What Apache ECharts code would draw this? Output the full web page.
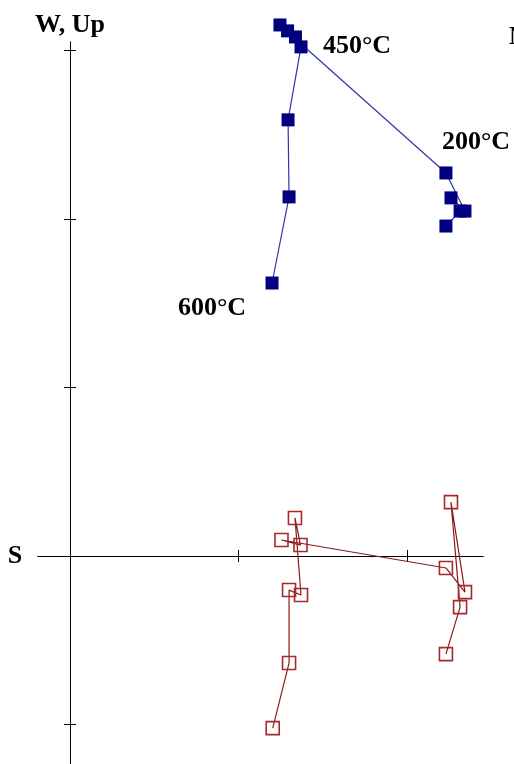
<!DOCTYPE html>
<html>
<head>
<meta charset="utf-8">
<script src="https://cdn.jsdelivr.net/npm/echarts@6/dist/echarts.min.js"></script>
<style>
  html, body { margin: 0; padding: 0; background: #ffffff; }
  #chart { width: 514px; height: 764px; }
</style>
</head>
<body>
<div id="chart"></div>
<script>
// Orthogonal vector projection of demagnetisation steps (axis units = 1 tick)
const stepNames = ['NRM', '2', '3', '4', '200°C', '6', '7', '8', '450°C', '10', '11', '600°C'];

// Horizontal projection (N component vs W component): filled squares
const horizN = [2.231, 2.315, 2.261, 2.344, 2.231, 1.246, 1.291, 1.338, 1.371, 1.294, 1.300, 1.199];
const horizW = [1.958, 2.047, 2.125, 2.047, 2.273, 3.151, 3.116, 3.080, 3.021, 2.588, 2.131, 1.620];

// Vertical projection (N component vs Up component): open squares
const vertN  = [2.231, 2.315, 2.261, 2.344, 2.231, 1.255, 1.368, 1.335, 1.371, 1.300, 1.300, 1.203];
const vertUp = [-0.582, -0.303, 0.320, -0.214, -0.071, 0.095, 0.065, 0.226, -0.231, -0.202, -0.635, -1.021];

// Tick marks on the two axes
const xTicks = [1, 2];
const yTicks = [-1, 1, 2, 3];

// Temperature labels
const tempLabels = ['200°C', '450°C', '600°C'];
// Axis direction labels
const axisLabels = ['W, Up', 'S', 'N'];

const toPairs = (xs, ys) => xs.map((x, i) => [x, ys[i]]);

const chart = echarts.init(document.getElementById('chart'), null, { renderer: 'canvas' });

const X_MIN = -0.190, X_MAX = 2.451;
const Y_MIN = -1.234, Y_MAX = 3.050;

function xAxisDef(pos, idx) {
  return {
    type: 'value', min: X_MIN, max: X_MAX, position: pos,
    axisLine: { show: true, onZero: true, onZeroAxisIndex: idx, lineStyle: { color: '#000', width: 1 } },
    axisTick: { show: true, inside: false, length: 6, customValues: xTicks, lineStyle: { color: '#000', width: 1 } },
    axisLabel: { show: false },
    splitLine: { show: false }
  };
}
function yAxisDef(pos, idx) {
  return {
    type: 'value', min: Y_MIN, max: Y_MAX, position: pos,
    axisLine: { show: true, onZero: true, onZeroAxisIndex: idx, lineStyle: { color: '#000', width: 1 } },
    axisTick: { show: true, inside: false, length: 6, customValues: yTicks, lineStyle: { color: '#000', width: 1 } },
    axisLabel: { show: false },
    splitLine: { show: false }
  };
}

const textFont = 'bold 26px "Liberation Serif", "Times New Roman", serif';
function txt(s, x, y, align) {
  return {
    type: 'text', x: x, y: y, z: 10,
    style: { text: s, font: textFont, fill: '#000', align: align || 'center', verticalAlign: 'middle' }
  };
}

chart.setOption({
  animation: false,
  backgroundColor: '#ffffff',
  grid: { left: 38, right: 31, top: 42, bottom: 0, containLabel: false },
  xAxis: [xAxisDef('bottom', 0), xAxisDef('top', 1)],
  yAxis: [yAxisDef('left', 0), yAxisDef('right', 1)],
  series: [
    {
      name: 'horizontal',
      type: 'line',
      xAxisIndex: 0, yAxisIndex: 0,
      data: toPairs(horizN, horizW),
      clip: false,
      symbol: 'rect',
      symbolSize: 13,
      showAllSymbol: true,
      lineStyle: { color: '#3434a8', width: 1.2 },
      itemStyle: { color: '#000080', borderWidth: 0 },
      z: 3
    },
    {
      name: 'vertical',
      type: 'line',
      xAxisIndex: 0, yAxisIndex: 0,
      data: toPairs(vertN, vertUp),
      clip: false,
      symbol: 'rect',
      symbolSize: 13,
      showAllSymbol: true,
      lineStyle: { color: '#8b1a1a', width: 1.2 },
      itemStyle: { color: 'rgba(255,255,255,0)', borderColor: '#a52a2a', borderWidth: 1.6 },
      z: 3
    }
  ],
  graphic: [
    txt(axisLabels[0], 70, 25),
    txt(axisLabels[1], 15, 556),
    txt(axisLabels[2], 509, 37, 'left'),
    txt(tempLabels[0], 476, 142),
    txt(tempLabels[1], 357, 46),
    txt(tempLabels[2], 212, 308)
  ]
});
</script>
</body>
</html>
